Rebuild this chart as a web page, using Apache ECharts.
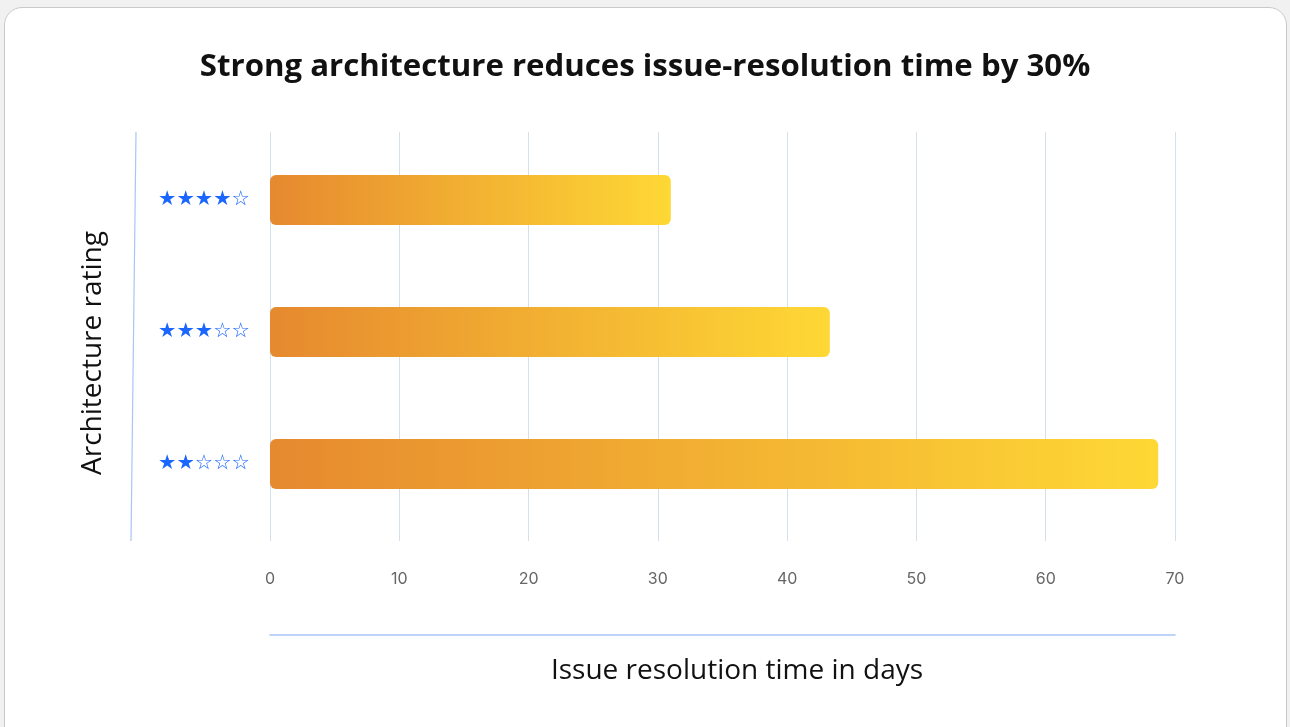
<!DOCTYPE html>
<html>
<head>
<meta charset="utf-8">
<script src="https://cdn.jsdelivr.net/npm/echarts@6/dist/echarts.min.js"></script>
<style>
  html, body { margin: 0; padding: 0; background: #f1f1f1; width: 1290px; height: 727px; overflow: hidden; }
  #card { position: absolute; left: 4px; top: 7px; width: 1281px; height: 760px; background: #fff;
          border: 1px solid #c9c9c9; border-radius: 18px; }
  #chart { position: absolute; left: 0; top: 0; width: 1290px; height: 727px; }
</style>
</head>
<body>
<div id="card"></div>
<div id="chart"></div>
<script>
// Architecture ratings (top to bottom) and mean issue resolution time in days
const ratings = ['★★★★☆', '★★★☆☆', '★★☆☆☆'];
const resolutionDays = [31.0, 43.3, 68.7];
const xTicks = [0, 10, 20, 30, 40, 50, 60, 70];

const X_MIN = xTicks[0], X_MAX = xTicks[xTicks.length - 1], X_STEP = xTicks[1] - xTicks[0];
const GRID_LEFT = 270, GRID_RIGHT = 115;

const chart = echarts.init(document.getElementById('chart'), null, { renderer: 'canvas' });

const barGradient = new echarts.graphic.LinearGradient(0, 0, 1, 0, [
  { offset: 0, color: '#e6892f' },
  { offset: 1, color: '#fed835' }
]);

chart.setOption({
  backgroundColor: 'transparent',
  animation: false,
  title: {
    text: 'Strong architecture reduces issue-resolution time by 30%',
    left: 'center',
    top: 47,
    textStyle: { fontFamily: 'Open Sans', fontWeight: 'bold', fontSize: 31.2, color: '#111' }
  },
  grid: [
    // grid lines and tick labels
    { left: GRID_LEFT, right: GRID_RIGHT, top: 132, height: 409 },
    // bars
    { left: GRID_LEFT, right: GRID_RIGHT, top: 134, height: 396 },
    // bottom axis line
    { left: GRID_LEFT, right: GRID_RIGHT, top: 132, height: 503 }
  ],
  xAxis: [
    {
      gridIndex: 0, type: 'value', min: X_MIN, max: X_MAX, interval: X_STEP,
      axisLine: { show: false }, axisTick: { show: false },
      splitLine: { show: true, lineStyle: { color: '#d5e0ea', width: 1 } },
      axisLabel: { margin: 30, fontFamily: 'Inter', fontSize: 16, color: '#666' }
    },
    {
      gridIndex: 1, type: 'value', min: X_MIN, max: X_MAX, interval: X_STEP,
      show: false
    },
    {
      gridIndex: 2, type: 'value', min: X_MIN, max: X_MAX, interval: X_STEP,
      axisLine: { show: true, lineStyle: { color: '#a9c5f7', width: 1.5 } },
      axisTick: { show: false }, axisLabel: { show: false }, splitLine: { show: false }
    }
  ],
  yAxis: [
    {
      gridIndex: 0, type: 'category', data: ratings, inverse: true, show: false
    },
    {
      gridIndex: 1, type: 'category', data: ratings, inverse: true,
      axisLine: { show: false }, axisTick: { show: false },
      axisLabel: { margin: 20, fontFamily: 'DejaVu Sans', fontSize: 20.5, color: '#1a66ff' }
    },
    {
      gridIndex: 2, type: 'category', data: ratings, inverse: true, show: false
    }
  ],
  graphic: [
    {
      type: 'line',
      shape: { x1: 136, y1: 132, x2: 131, y2: 541 },
      style: { stroke: '#aac4f6', lineWidth: 1.2 },
      silent: true
    },
    {
      type: 'text',
      x: 93, y: 353, rotation: Math.PI / 2,
      style: {
        text: 'Architecture rating', fontFamily: 'Open Sans', fontSize: 28, fill: '#111',
        align: 'center', verticalAlign: 'middle'
      }
    },
    {
      type: 'text',
      x: 737, y: 671,
      style: {
        text: 'Issue resolution time in days', fontFamily: 'Open Sans', fontSize: 28, fill: '#111',
        align: 'center', verticalAlign: 'middle'
      }
    }
  ],
  series: [
    {
      type: 'bar', xAxisIndex: 1, yAxisIndex: 1,
      data: resolutionDays,
      barWidth: 50,
      itemStyle: { color: barGradient, borderRadius: 6 },
      silent: true
    }
  ]
});
</script>
</body>
</html>
